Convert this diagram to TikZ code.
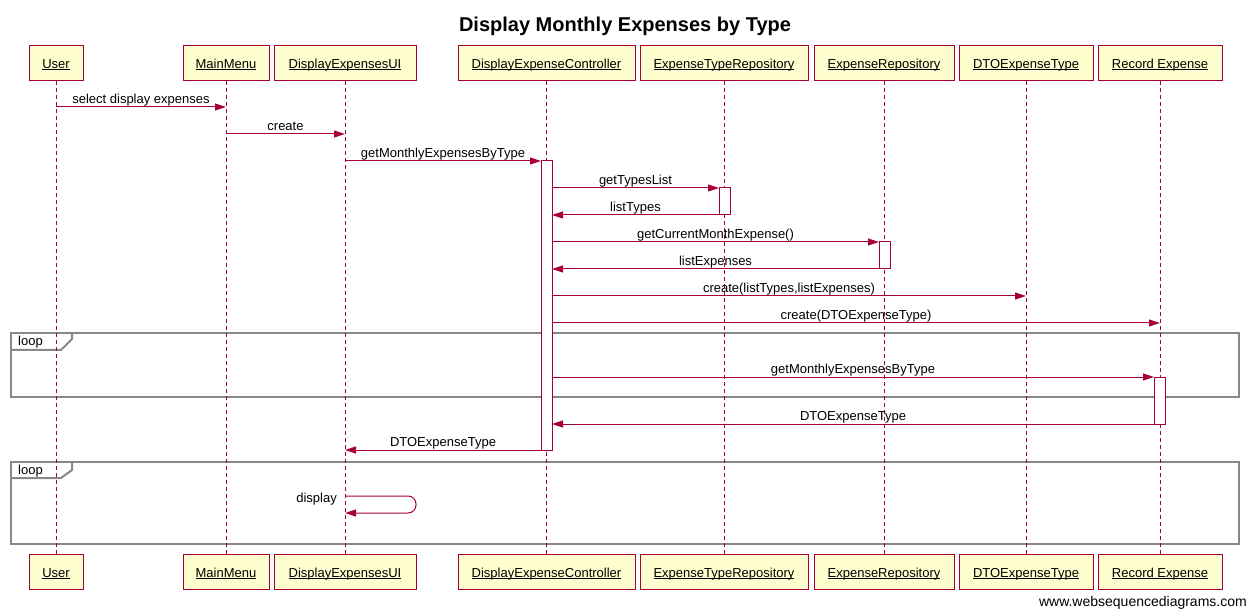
\documentclass[tikz,border=0pt]{standalone}
\usepackage{fontspec}
\setmainfont{Liberation Sans}
\usetikzlibrary{arrows.meta}
\definecolor{wsdred}{HTML}{A80036}
\definecolor{wsdfill}{HTML}{FEFECE}
\definecolor{wsdgray}{HTML}{888888}
\newcommand\ulname[1]{\setbox0\hbox{#1}\rlap{\rule[-1.4pt]{\wd0}{0.8pt}}\box0}

\begin{document}
\begin{tikzpicture}[x=1pt,y=-1pt,
    txt/.style={font=\fontsize{13}{15}\selectfont},
    part/.style={txt,draw=wsdred,fill=wsdfill,line width=1pt,minimum height=35pt,inner sep=0pt,outer sep=0pt,text height=11pt,text depth=1pt},
    life/.style={draw=wsdred,line width=1pt,dash pattern=on 4pt off 3pt},
    act/.style={draw=wsdred,fill=white,line width=1pt,minimum width=11pt,inner sep=0pt,outer sep=0pt},
    msg/.style={draw=wsdred,line width=1pt,-{Triangle[length=11pt,width=7pt]}},
    lbl/.style={txt,anchor=base,yshift=3.5pt,inner sep=0pt},
    frame/.style={draw=wsdgray,line width=2pt}]
                        \useasboundingbox (0,0) rectangle (1248,612);
                        \node[font=\fontsize{20}{24}\selectfont\bfseries,anchor=base] (title) at (625,32) {Display Monthly Expenses by Type};
                        % Loop frames
                        \draw[frame] (11,333) rectangle (1239,397);
                        \draw[frame] (11,350) -- (61,350) -- (72,339) -- (72,333);
                        \node[txt,anchor=base west,inner sep=0pt] (loop1) at (18,345.5) {loop};
                        \draw[frame] (11,462) rectangle (1239,544);
                        \draw[frame] (11,478) -- (61,478) -- (72,470) -- (72,462);
                        \node[txt,anchor=base west,inner sep=0pt] (loop2) at (18,474) {loop};
                        % Participants, top
                        \node[part,minimum width=54pt] (U) at (56,63.5) {\ulname{User}};
                        \node[part,minimum width=86pt] (MM) at (226,63.5) {\ulname{MainMenu}};
                        \node[part,minimum width=142pt] (UI) at (345,63.5) {\ulname{DisplayExpensesUI}};
                        \node[part,minimum width=177pt] (DEC) at (546.5,63.5) {\ulname{DisplayExpenseController}};
                        \node[part,minimum width=168pt] (ETR) at (724,63.5) {\ulname{ExpenseTypeRepository}};
                        \node[part,minimum width=140pt] (ER) at (884,63.5) {\ulname{ExpenseRepository}};
                        \node[part,minimum width=134pt] (DTO) at (1026,63.5) {\ulname{DTOExpenseType}};
                        \node[part,minimum width=124pt] (RE) at (1160,63.5) {\ulname{Record Expense}};
                        % Participants, bottom
                        \node[part,minimum width=54pt] (U2) at (56,572) {\ulname{User}};
                        \node[part,minimum width=86pt] (MM2) at (226,572) {\ulname{MainMenu}};
                        \node[part,minimum width=142pt] (UI2) at (345,572) {\ulname{DisplayExpensesUI}};
                        \node[part,minimum width=177pt] (DEC2) at (546.5,572) {\ulname{DisplayExpenseController}};
                        \node[part,minimum width=168pt] (ETR2) at (724,572) {\ulname{ExpenseTypeRepository}};
                        \node[part,minimum width=140pt] (ER2) at (884,572) {\ulname{ExpenseRepository}};
                        \node[part,minimum width=134pt] (DTO2) at (1026,572) {\ulname{DTOExpenseType}};
                        \node[part,minimum width=124pt] (RE2) at (1160,572) {\ulname{Record Expense}};
                        % Lifelines
                        \draw[life] (U.south) -- (U2.north);
                        \draw[life] (MM.south) -- (MM2.north);
                        \draw[life] (UI.south) -- (UI2.north);
                        \draw[life] (DEC.south) -- (DEC2.north);
                        \draw[life] (ETR.south) -- (ETR2.north);
                        \draw[life] (ER.south) -- (ER2.north);
                        \draw[life] (DTO.south) -- (DTO2.north);
                        \draw[life] (RE.south) -- (RE2.north);
                        % Activations
                        \node[act,minimum height=289pt] (aDEC) at (546.5,305.5) {};
                        \node[act,minimum height=27pt] (aETR) at (724.5,201.5) {};
                        \node[act,minimum height=27pt] (aER) at (884.5,255.5) {};
                        \node[act,minimum height=47pt] (aRE) at (1159.5,400.5) {};
                        % Rows
                        \coordinate (r1) at (0,107);
                        \coordinate (r2) at (0,134);
                        \coordinate (r8) at (0,296);
                        \coordinate (r9) at (0,323);
                        \coordinate (r13) at (0,496);
                        \coordinate (self) at (416,513);
                        % Messages
                        \draw[msg] (U |- r1) -- node[lbl] {select display expenses} (MM |- r1);
                        \draw[msg] (MM |- r2) -- node[lbl] {create} (UI |- r2);
                        \draw[msg] (UI |- aDEC.north) -- node[lbl] {getMonthlyExpensesByType} (aDEC.north west);
                        \draw[msg] (aDEC.east |- aETR.north) -- node[lbl] {getTypesList} (aETR.north west);
                        \draw[msg] (aETR.south west) -- node[lbl] {listTypes} (aDEC.east |- aETR.south);
                        \draw[msg] (aDEC.east |- aER.north) -- node[lbl] {getCurrentMonthExpense()} (aER.north west);
                        \draw[msg] (aER.south west) -- node[lbl] {listExpenses} (aDEC.east |- aER.south);
                        \draw[msg] (aDEC.east |- r8) -- node[lbl] {create(listTypes,listExpenses)} (DTO |- r8);
                        \draw[msg] (aDEC.east |- r9) -- node[lbl] {create(DTOExpenseType)} (RE |- r9);
                        \draw[msg] (aDEC.east |- aRE.north) -- node[lbl] {getMonthlyExpensesByType} (aRE.north west);
                        \draw[msg] (aRE.south west) -- node[lbl] {DTOExpenseType} (aDEC.east |- aRE.south);
                        \draw[msg] (aDEC.south west) -- node[lbl] {DTOExpenseType} (UI |- aDEC.south);
                        \draw[msg,rounded corners=8pt] (UI |- r13) -- (self |- r13) -- (self) -- (UI |- self);
                        \node[txt,anchor=base east,inner sep=0pt,xshift=-8pt,yshift=-6.5pt] (disp) at (UI |- r13) {display};
                        \node[font=\fontsize{14}{16}\selectfont,anchor=base east,inner sep=0pt] (wsd) at (1247,606) {www.websequencediagrams.com};
                    \end{tikzpicture}
\end{document}
